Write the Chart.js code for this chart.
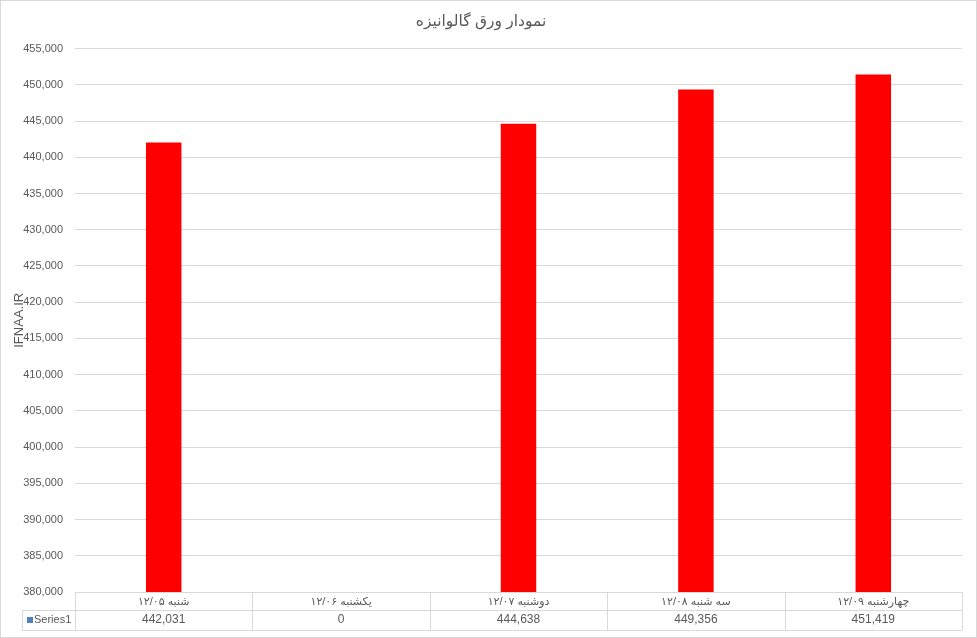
<!DOCTYPE html>
<html>
<head>
<meta charset="utf-8">
<script src="https://cdn.jsdelivr.net/npm/chart.js@4/dist/chart.umd.min.js"></script>
<style>
  html, body { margin: 0; padding: 0; background: #fff; }
  #chart { display: block; }
</style>
</head>
<body>
<canvas id="chart" width="977" height="638"></canvas>
<script>
// داده‌های نمودار
const chartTitle = 'نمودار ورق گالوانیزه';
const axisTitle = 'IFNAA.IR';
const seriesName = 'Series1';
const categories = ['شنبه ۱۲/۰۵', 'یکشنبه ۱۲/۰۶', 'دوشنبه ۱۲/۰۷', 'سه شنبه ۱۲/۰۸', 'چهارشنبه ۱۲/۰۹'];
const series1 = [442031, 0, 444638, 449356, 451419];
const yMin = 380000;
const yMax = 455000;
const yStep = 5000;

const textColor = '#595959';
const lineColor = '#d9d9d9';
const fontFamily = '"Liberation Sans", "DejaVu Sans", sans-serif';

const fmt = v => Number(v).toLocaleString('en-US');

// جدول داده زیر نمودار
const dataTablePlugin = {
    id: 'dataTable',
    afterDraw(chart) {
        const ctx = chart.ctx;
        const area = chart.chartArea;
        const x = chart.scales.x;
        const colW = (area.right - area.left) / categories.length;
        const row1Top = area.bottom;
        const row2Top = row1Top + 18;
        const row2Bottom = row2Top + 20;
        const tableLeft = 22;

        ctx.save();
        ctx.strokeStyle = lineColor;
        ctx.lineWidth = 1;
        ctx.beginPath();
        ctx.moveTo(area.left, row1Top + 0.5);
        ctx.lineTo(area.right, row1Top + 0.5);
        ctx.moveTo(tableLeft, row2Top + 0.5);
        ctx.lineTo(area.right, row2Top + 0.5);
        ctx.moveTo(tableLeft, row2Bottom + 0.5);
        ctx.lineTo(area.right, row2Bottom + 0.5);
        ctx.moveTo(tableLeft + 0.5, row2Top);
        ctx.lineTo(tableLeft + 0.5, row2Bottom);
        for (let i = 0; i <= categories.length; i++) {
            const px = Math.round(area.left + i * colW) + 0.5;
            ctx.moveTo(px, row1Top);
            ctx.lineTo(px, row2Bottom);
        }
        ctx.stroke();

        ctx.fillStyle = textColor;
        ctx.textAlign = 'center';
        ctx.textBaseline = 'middle';
        categories.forEach((c, i) => {
            const cx = x.getPixelForValue(i);
            ctx.font = '11px ' + fontFamily;
            ctx.fillText(c, cx, row1Top + 10);
            ctx.font = '12px ' + fontFamily;
            ctx.fillText(fmt(series1[i]), cx, row2Top + 10);
        });

        // کلید سری
        ctx.fillStyle = '#4f81bd';
        ctx.fillRect(27, row2Top + 7, 6, 6);
        ctx.fillStyle = textColor;
        ctx.textAlign = 'left';
        ctx.font = '11px ' + fontFamily;
        ctx.fillText(seriesName, 34, row2Top + 10);

        // قاب بیرونی
        ctx.strokeStyle = lineColor;
        ctx.strokeRect(0.5, 0.5, chart.width - 1, chart.height - 1);
        ctx.restore();
    }
};

new Chart(document.getElementById('chart'), {
    type: 'bar',
    data: {
        labels: categories,
        datasets: [{
            label: seriesName,
            data: series1,
            backgroundColor: '#ff0000',
            borderWidth: 0,
            categoryPercentage: 1,
            barPercentage: 0.2
        }]
    },
    options: {
        responsive: false,
        animation: false,
        layout: { padding: { right: 15 } },
        plugins: {
            legend: { display: false },
            tooltip: { enabled: false },
            title: {
                display: true,
                text: chartTitle,
                color: textColor,
                font: { family: fontFamily, size: 15.5, weight: 'normal' },
                padding: { top: 12, bottom: 18 }
            }
        },
        scales: {
            x: {
                grid: { display: false },
                border: { display: false },
                ticks: { display: false },
                afterFit(scale) { scale.height = 46; }
            },
            y: {
                min: yMin,
                max: yMax,
                grid: { color: lineColor, drawTicks: false },
                border: { display: false },
                ticks: {
                    stepSize: yStep,
                    color: textColor,
                    padding: 12,
                    font: { family: fontFamily, size: 11 },
                    callback: v => fmt(v)
                },
                title: {
                    display: true,
                    text: axisTitle,
                    color: textColor,
                    font: { family: fontFamily, size: 13 },
                    padding: { top: 12 }
                },
                afterFit(scale) { scale.width = 75; }
            }
        }
    },
    plugins: [dataTablePlugin]
});
</script>
</body>
</html>
